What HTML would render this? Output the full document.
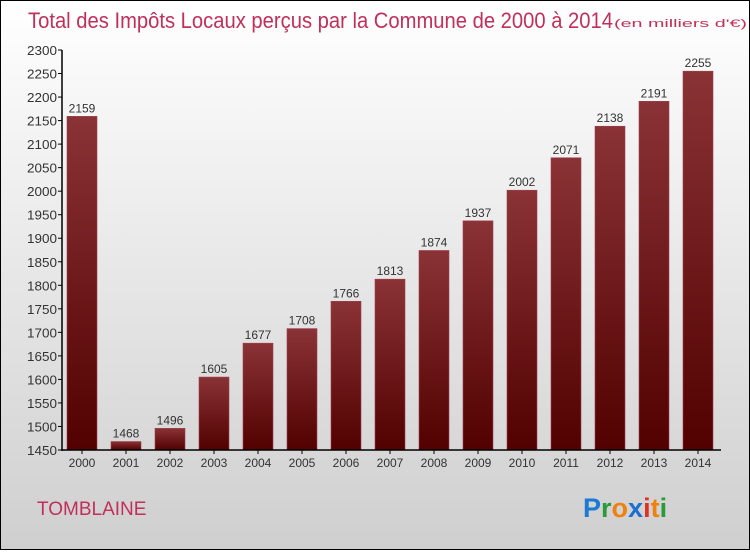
<!DOCTYPE html>
<html><head><meta charset="utf-8"><style>
body{margin:0;width:750px;height:550px;overflow:hidden}
#root{position:relative;width:748px;height:548px;border:1px solid #000;background:linear-gradient(#fff,#cfcfcf);font-family:"Liberation Sans",sans-serif}
</style></head><body>
<div id="root">
<svg id="chart" width="748" height="548">
<defs><linearGradient id="bg" x1="0" y1="0" x2="0" y2="1"><stop offset="0" stop-color="#8a3336"/><stop offset="1" stop-color="#520000"/></linearGradient></defs>
<text x="27" y="27" font-size="22" fill="#c0305a" textLength="585" lengthAdjust="spacingAndGlyphs">Total des Impôts Locaux perçus par la Commune de 2000 à 2014</text>
<text x="613" y="26" font-size="11" fill="#c0305a" textLength="133" lengthAdjust="spacingAndGlyphs">(en milliers d'€)</text>
<text x="36" y="514" font-size="19" fill="#c0305a">TOMBLAINE</text>
<g font-size="27" font-weight="bold"><text x="582" y="516"><tspan fill="#1a7ad4">P</tspan><tspan fill="#2a9a3a">r</tspan><tspan fill="#f08010">o</tspan><tspan fill="#1a6fd0">x</tspan><tspan fill="#e03020">i</tspan><tspan fill="#f08010">t</tspan><tspan fill="#2a9a3a">i</tspan></text></g>
<g id="plot"></g>
</svg>
</div>
<script>
const years=["2000","2001","2002","2003","2004","2005","2006","2007","2008","2009","2010","2011","2012","2013","2014"];
const values=[2159,1468,1496,1605,1677,1708,1766,1813,1874,1937,2002,2071,2138,2191,2255];
const yTicks=[1450,1500,1550,1600,1650,1700,1750,1800,1850,1900,1950,2000,2050,2100,2150,2200,2250,2300];
const yMin=1450,yMax=2300,plotTop=49,plotBot=449;
const yScale=v=>plotBot-(v-yMin)/(yMax-yMin)*(plotBot-plotTop);
const xc=i=>81+i*44;
const NS="http://www.w3.org/2000/svg",g=document.getElementById('plot');
function mk(t,a,txt){const e=document.createElementNS(NS,t);for(const k in a)e.setAttribute(k,a[k]);if(txt!==undefined)e.textContent=txt;g.appendChild(e);return e;}
yTicks.forEach(t=>{
const l=mk('line',{x1:57,x2:61,y1:yScale(t),y2:yScale(t),stroke:'#000'});


const tx=mk('text',{x:56,y:yScale(t)+5,'text-anchor':'end','font-size':13,fill:'#333',textLength:30,lengthAdjust:'spacingAndGlyphs'},t);


});
values.forEach((v,i)=>{
const r=mk('rect',{x:xc(i)-15,y:yScale(v),width:30,height:plotBot-yScale(v),fill:'url(#bg)',stroke:'#a04050','stroke-width':0.6});


const vl=mk('text',{x:xc(i),y:yScale(v)-4,'text-anchor':'middle','font-size':12,fill:'#333'},v);


const tk=mk('line',{x1:xc(i),x2:xc(i),y1:plotBot,y2:plotBot+4,stroke:'#000'});


const xl=mk('text',{x:xc(i),y:plotBot+17,'text-anchor':'middle','font-size':12,fill:'#333'},years[i]);


});
const ya=mk('line',{x1:61,x2:61,y1:plotTop,y2:plotBot+1,stroke:'#000','stroke-width':1.5});


const xa=mk('line',{x1:61,x2:720,y1:plotBot,y2:plotBot,stroke:'#000','stroke-width':1.5});


</script>
</body></html>
